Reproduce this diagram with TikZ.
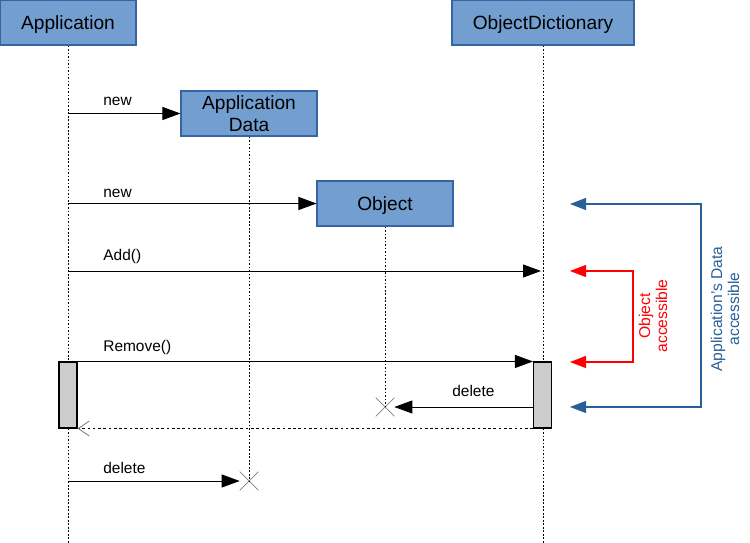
\documentclass[tikz,border=0pt]{standalone}
\usepackage{fontspec}
\setmainfont{Liberation Sans}
\usetikzlibrary{arrows.meta,shapes.misc}

\definecolor{boxfill}{HTML}{729FCF}
\definecolor{boxline}{HTML}{3465A4}
\definecolor{noteblue}{HTML}{2A6099}
\definecolor{actgray}{HTML}{CCCCCC}

\tikzset{
	obj/.style={draw=boxline, fill=boxfill, line width=0.6pt, minimum width=2.72cm, minimum height=0.9cm, inner sep=0pt, text depth=0pt, align=center, font=\fontsize{10.9}{12.5}\selectfont},
	life/.style={dash pattern=on 1pt off 1pt, line width=0.5pt},
	act/.style={draw, fill=actgray, line width=0.6pt, minimum width=0.36cm, minimum height=1.32cm, inner sep=0pt},
	msg/.style={line width=0.5pt, -{Triangle[length=0.36cm,width=0.26cm]}},
	ret/.style={line width=0.5pt, dash pattern=on 1.5pt off 1.5pt, -{Straight Barb[length=0.22cm,width=0.3cm,color=gray]}},
	kill/.style={cross out, draw=gray, minimum size=0.36cm, inner sep=0pt},
	lbl/.style={anchor=base west, inner sep=0pt, font=\fontsize{8.8}{10}\selectfont},
	note/.style={line width=0.6pt, {Triangle[length=0.32cm,width=0.24cm]}-{Triangle[length=0.32cm,width=0.24cm]}},
	notelbl/.style={rotate=90, align=center, inner sep=0pt, font=\fontsize{8.9}{9.6}\selectfont}
}

\begin{document}
\begin{tikzpicture}[x=0.02cm, y=-0.02cm]
\useasboundingbox (0,0) rectangle (750,543);

\node[obj] (app) at (68,22.5) {Application};
\node[obj, minimum width=3.64cm] (dict) at (543,22.5) {ObjectDictionary};
\node[obj] (ad) at (249,113.5) {Application\\Data};
\node[obj] (ob) at (385,203.5) {Object};

\coordinate (appEnd) at (68,543);
\coordinate (dictEnd) at (543,543);
\node[kill] (x1) at (385,407) {};
\node[kill] (x2) at (249,481) {};

\draw[life] (app.south) -- (appEnd);
\draw[life] (dict.south) -- (dictEnd);
\draw[life] (ad.south) -- (x2.center);
\draw[life] (ob.south) -- (x1.center);

\node[act] (actA) at (68,395) {};
\node[act] (actD) at (542.5,395) {};

\coordinate (addE) at (541,271);

\draw[msg] (app.south |- ad.west) -- (ad.west);
\draw[msg] (app.south |- ob.west) -- (ob.west);
\draw[msg] (app.south |- addE) -- (addE);
\draw[msg] (actA.north east) -- (actD.north west);
\draw[msg] (actD.west |- x1) -- (x1.east);
\draw[ret] (actD.south west) -- (actA.south east);
\draw[msg] (app.south |- x2) -- (x2.west);

\node[lbl] (lNew1) at (103,106) {new};
\node[lbl] (lNew2) at (103,198) {new};
\node[lbl] (lAdd) at (103,261) {Add()};
\node[lbl] (lRem) at (103,352) {Remove()};
\node[lbl] (lDel1) at (452,397) {delete};
\node[lbl] (lDel2) at (103,473) {delete};

\coordinate (oT) at (570,271);
\coordinate (oB) at (570,362);
\coordinate (aT) at (570,204);
\coordinate (aB) at (570,407);

\draw[note, red] (oT) -| (633,316) |- (oB);
\draw[note, noteblue] (aT) -| (701,300) |- (aB);

\node[notelbl, text=red] (oLbl) at (653,316) {Object\\accessible};
\node[notelbl, text=noteblue] (aLbl) at (725,309) {Application's Data\\accessible};

\end{tikzpicture}
\end{document}
